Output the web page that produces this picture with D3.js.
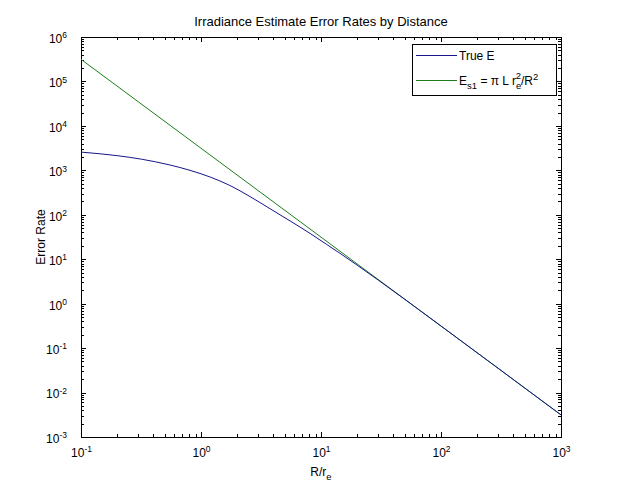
<!DOCTYPE html>
<html>
<head>
<meta charset="utf-8">
<script src="https://cdn.jsdelivr.net/npm/d3@7"></script>
<style>
  body { margin: 0; background: #ffffff; }
  text { font-family: "Liberation Sans", Arial, sans-serif; fill: #000; }
</style>
</head>
<body>
<div id="canvas"></div>
<script>
"use strict";

/* Data */
let distance = [0.1, 0.2, 0.32, 0.55, 0.81, 1.19, 1.74, 2.56, 3.76, 5.52, 8.1, 11.1, 15, 20, 30, 50, 100, 1000];
let trueE = [2570, 2140, 1780, 1320, 1000, 708, 457, 257, 137, 72.9, 38.1, 21.7, 12.6, 7.36, 3.39, 1.245, 0.314, 0.00314];
let approxDistance = [0.1, 1, 10, 100, 1000];
let approxE = [314000, 3140, 31.4, 0.314, 0.00314];

let xTicks = [0.1, 1, 10, 100, 1000];
let yTicks = [1e-3, 1e-2, 1e-1, 1, 10, 100, 1e3, 1e4, 1e5, 1e6];

/* Layout */
let svgWidth = 621;
let svgHeight = 491;
let margin = { top: 37, right: 60, bottom: 54, left: 81 };
let chartWidth = svgWidth - margin.left - margin.right;   // 480
let chartHeight = svgHeight - margin.top - margin.bottom; // 400

let svg = d3.select("#canvas")
    .append("svg")
    .attr("width", svgWidth)
    .attr("height", svgHeight);

svg.append("rect")
    .attr("width", svgWidth)
    .attr("height", svgHeight)
    .attr("fill", "#ffffff");

let xScale = d3.scaleLog()
    .domain([0.1, 1000])
    .range([margin.left, margin.left + chartWidth]);

let yScale = d3.scaleLog()
    .domain([1e-3, 1e6])
    .range([margin.top + chartHeight, margin.top]);

// minor ticks 2..9 in each decade
function minorTicks(ticks) {
    let out = [];
    for (let i = 0; i < ticks.length - 1; i++) {
        for (let k = 2; k <= 9; k++) out.push(ticks[i] * k);
    }
    return out;
}

let xMinor = minorTicks(xTicks);
let yMinor = minorTicks(yTicks);

let bottomY = margin.top + chartHeight;
let rightX = margin.left + chartWidth;

function tickGroup(axis, tx, ty) {
    let g = svg.append("g")
        .attr("transform", "translate(" + tx + "," + ty + ")")
        .call(axis);
    g.select(".domain").remove();
    g.selectAll("line").attr("stroke", "#000").attr("shape-rendering", "crispEdges");
    return g;
}

// major + minor ticks on all four sides (inward)
tickGroup(d3.axisBottom(xScale).tickValues(xMinor).tickSize(-3).tickFormat(""), 0, bottomY);
tickGroup(d3.axisTop(xScale).tickValues(xMinor).tickSize(-3).tickFormat(""), 0, margin.top);
tickGroup(d3.axisLeft(yScale).tickValues(yMinor).tickSize(-3).tickFormat(""), margin.left, 0);
tickGroup(d3.axisRight(yScale).tickValues(yMinor).tickSize(-3).tickFormat(""), rightX, 0);
tickGroup(d3.axisTop(xScale).tickValues(xTicks).tickSize(-5).tickFormat(""), 0, margin.top);
tickGroup(d3.axisRight(yScale).tickValues(yTicks).tickSize(-5).tickFormat(""), rightX, 0);

let xAxisG = tickGroup(d3.axisBottom(xScale).tickValues(xTicks).tickSize(-5).tickPadding(11), 0, bottomY);
let yAxisG = tickGroup(d3.axisLeft(yScale).tickValues(yTicks).tickSize(-5).tickPadding(14), margin.left, 0);

// power-of-ten labels with superscript
function powerLabel(sel) {
    sel.each(function(d) {
        let t = d3.select(this);
        let exp = Math.round(Math.log10(d));
        t.text("");
        t.style("font-size", "12px").attr("font-family", null);
        t.append("tspan").text("10");
        t.append("tspan")
            .attr("dy", "-0.55em")
            .style("font-size", "8.5px")
            .text(exp);
    });
}
xAxisG.selectAll("text").call(powerLabel).attr("text-anchor", "middle");
yAxisG.selectAll("text").call(powerLabel).attr("dy", "0.45em");

// plot box
svg.append("rect")
    .attr("x", margin.left + 0.5)
    .attr("y", margin.top + 0.5)
    .attr("width", chartWidth)
    .attr("height", chartHeight)
    .attr("fill", "none")
    .attr("stroke", "#000")
    .attr("stroke-width", 1);

// lines
let line = d3.line()
    .x(function(d) { return xScale(d[0]); })
    .y(function(d) { return yScale(d[1]); })
    .curve(d3.curveMonotoneX);

let blueColor = "#16168a";
let greenColor = "#1d7d1d";

svg.append("path")
    .datum(approxDistance.map(function(r, i) { return [r, approxE[i]]; }))
    .attr("d", line)
    .attr("fill", "none")
    .attr("stroke", greenColor)
    .attr("stroke-width", 1);

svg.append("path")
    .datum(distance.map(function(r, i) { return [r, trueE[i]]; }))
    .attr("d", line)
    .attr("fill", "none")
    .attr("stroke", blueColor)
    .attr("stroke-width", 1);

// title
svg.append("text")
    .attr("x", margin.left + chartWidth / 2)
    .attr("y", 26)
    .attr("text-anchor", "middle")
    .style("font-size", "13px")
    .text("Irradiance Estimate Error Rates by Distance");

// x label R/r_e
let xLabel = svg.append("text")
    .attr("x", margin.left + chartWidth / 2)
    .attr("y", 476)
    .attr("text-anchor", "middle")
    .style("font-size", "12px");
xLabel.append("tspan").text("R/r");
xLabel.append("tspan").attr("dy", "0.4em").style("font-size", "9.5px").text("e");

// y label
svg.append("text")
    .attr("transform", "translate(45," + (margin.top + chartHeight / 2) + ") rotate(-90)")
    .attr("text-anchor", "middle")
    .style("font-size", "12px")
    .text("Error Rate");

// legend
let legX = 412, legY = 44, legW = 144, legH = 51;
svg.append("rect")
    .attr("x", legX + 0.5)
    .attr("y", legY + 0.5)
    .attr("width", legW)
    .attr("height", legH)
    .attr("fill", "#ffffff")
    .attr("stroke", "#000");

svg.append("line")
    .attr("x1", legX + 4).attr("x2", legX + 45)
    .attr("y1", 55.5).attr("y2", 55.5)
    .attr("stroke", blueColor);
svg.append("text")
    .attr("x", legX + 47)
    .attr("y", 60)
    .style("font-size", "12px")
    .text("True E");

svg.append("line")
    .attr("x1", legX + 4).attr("x2", legX + 45)
    .attr("y1", 80.5).attr("y2", 80.5)
    .attr("stroke", greenColor);
let legText = svg.append("text")
    .attr("x", legX + 47)
    .attr("y", 85)
    .style("font-size", "12px");
legText.append("tspan").text("E");
legText.append("tspan").attr("dy", 4).style("font-size", "9.5px").text("s1");
legText.append("tspan").attr("dy", -4).text(" = \u03c0 L r");
legText.append("tspan").attr("dy", 4).style("font-size", "9.5px").text("e");
legText.append("tspan").attr("dx", -5.5).attr("dy", -10).style("font-size", "9.5px").text("2");
legText.append("tspan").attr("dy", 6).text("/R");
legText.append("tspan").attr("dy", -5).style("font-size", "9.5px").text("2");
</script>
</body>
</html>
